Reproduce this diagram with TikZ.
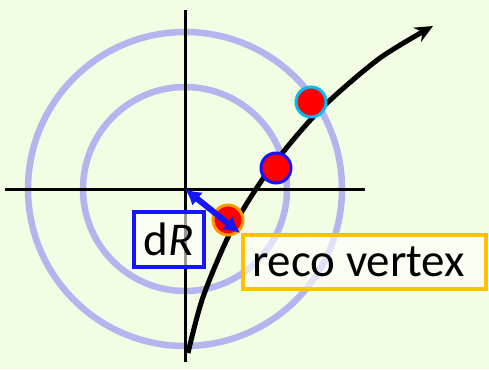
\documentclass[tikz,border=0pt]{standalone}
\usepackage{fontspec}
\setmainfont{Carlito}
\usetikzlibrary{arrows.meta,positioning}
\definecolor{bgcol}{RGB}{243,253,227}
\definecolor{ringcol}{RGB}{180,180,238}
\definecolor{vtxorange}{RGB}{255,192,0}
\definecolor{dotorange}{RGB}{255,153,0}
\definecolor{dotcyan}{RGB}{0,190,240}
\definecolor{dotblue}{RGB}{20,20,255}

\begin{document}
\begin{tikzpicture}[
x=1pt,y=-1pt,
ring/.style={draw=ringcol,line width=6.5pt},
axis/.style={line width=3pt},
hit/.style={circle,fill=red,line width=3pt,minimum size=30pt,inner sep=0pt},
lbl/.style={line width=4.5pt,fill=white,fill opacity=0.6,text opacity=1,font=\fontsize{47}{54}\selectfont,inner sep=0pt},
arr/.style={-{Stealth[length=18pt,width=16pt]},line width=5pt},
dr/.style={{Latex[length=16pt,width=17pt]}-{Latex[length=16pt,width=17pt]},line width=6pt,draw=dotblue}
]
\fill[bgcol] (0,0) rectangle (489,369);
\coordinate (O) at (185,189);
\draw[ring] (O) circle[radius=102];
\draw[ring] (O) circle[radius=157];
% axes
\coordinate (xl) at (5,189);
\coordinate (xr) at (365,189);
\coordinate (yt) at (185,10);
\coordinate (yb) at (185,362);
\draw[axis] (xl) -- (xr);
\draw[axis] (yt) -- (yb);
% track
\draw[arr] plot[smooth] coordinates {(188,353) (203,297) (230,233) (260,183) (293,140) (327,103) (380,58) (433,26)};
% labels
\node[lbl,draw=dotblue,minimum width=70pt,minimum height=55pt] (drbox) at (169,239.5) {d\textit{R}};
\node[lbl,draw=vtxorange,text width=225pt,inner xsep=9pt,minimum height=54pt,align=flush left] (reco) at (364.5,262) {reco vertex};
% hits
\node[hit,draw=dotorange] (vtx) at (228,220) {};
\node[hit,draw=dotblue] (hitb) at (276,168) {};
\node[hit,draw=dotcyan] (hitc) at (311,102) {};
\coordinate (drend) at (240,233);
\draw[dr] (O) -- (drend);
\end{tikzpicture}
\end{document}
